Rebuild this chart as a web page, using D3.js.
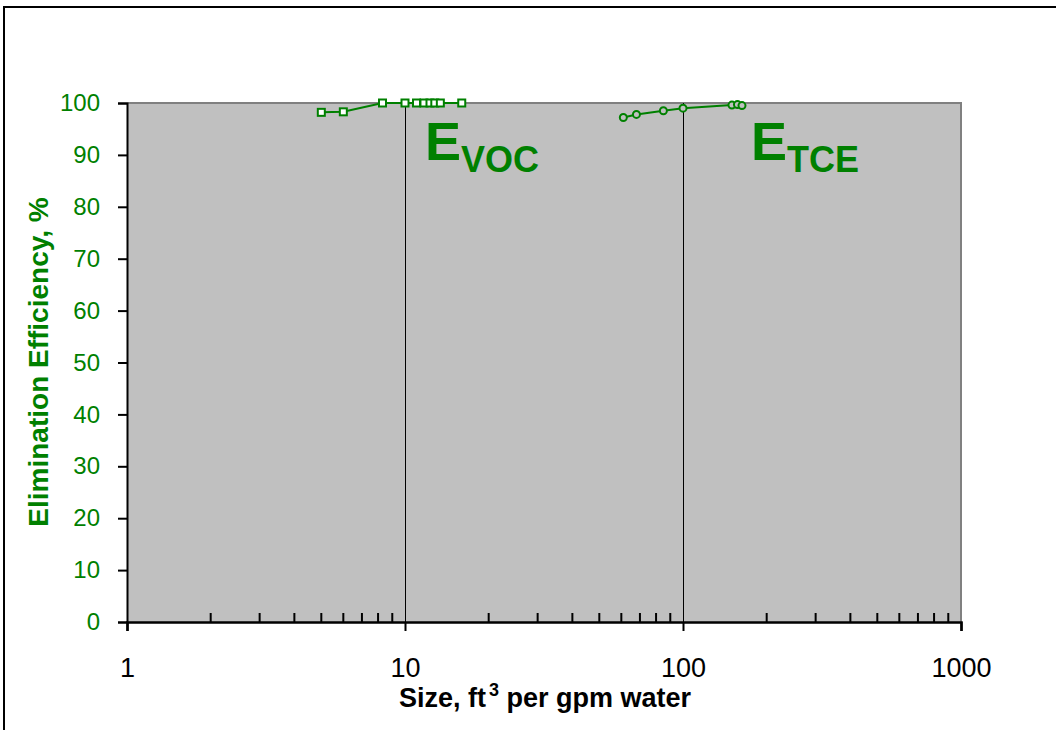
<!DOCTYPE html>
<html>
<head>
<meta charset="utf-8">
<script src="https://cdn.jsdelivr.net/npm/d3@7"></script>
<style>
  body { margin: 0; background: #fff; }
  svg { display: block; font-family: Arial, "Liberation Sans", sans-serif; }
</style>
</head>
<body>
<svg id="chart" width="1056" height="730"></svg>
<script>
// VOC elimination (squares)
const vocSize = [5, 6, 8.3, 10, 11, 11.7, 12.3, 12.8, 13.4, 16];
const vocEff  = [98.2, 98.3, 100, 100, 100, 100, 100, 100, 100, 100];
// TCE elimination (circles)
const tceSize = [61, 68, 85, 100, 150, 157, 163];
const tceEff  = [97.2, 97.8, 98.5, 99.0, 99.6, 99.7, 99.5];

const xTicks = [1, 10, 100, 1000];
const yTicks = [0, 10, 20, 30, 40, 50, 60, 70, 80, 90, 100];
const gridAt = [10, 100];

const GREEN = '#008000';
const FONT = 'Arial, "Liberation Sans", sans-serif';
const svg = d3.select('#chart');
const margin = { left: 127, top: 103, right: 961, bottom: 622 };

const x = d3.scaleLog().domain([1, 1000]).range([margin.left, margin.right]);
const y = d3.scaleLinear().domain([0, 100]).range([margin.bottom, margin.top]);

// outer frame
svg.append('rect')
  .attr('x', 4).attr('y', 7).attr('width', 1070).attr('height', 740)
  .attr('fill', 'none').attr('stroke', '#000').attr('stroke-width', 2);

// plot area
svg.append('rect')
  .attr('x', margin.left).attr('y', margin.top)
  .attr('width', margin.right - margin.left).attr('height', margin.bottom - margin.top)
  .attr('fill', '#c0c0c0');
svg.append('path')
  .attr('d', `M${margin.left},${margin.top}H${margin.right}V${margin.bottom}`)
  .attr('fill', 'none').attr('stroke', '#808080').attr('stroke-width', 2);

// gridlines at decades
svg.selectAll('.grid').data(gridAt).join('line')
  .attr('x1', d => Math.round(x(d)) + 0.5).attr('x2', d => Math.round(x(d)) + 0.5)
  .attr('y1', margin.top).attr('y2', margin.bottom)
  .attr('stroke', '#000').attr('stroke-width', 1);

// minor x ticks (inside)
const minor = [];
for (let dec = 1; dec < 1000; dec *= 10)
  for (let k = 2; k <= 9; k++) minor.push(dec * k);
svg.selectAll('.minor').data(minor).join('line')
  .attr('x1', d => x(d)).attr('x2', d => x(d))
  .attr('y1', margin.bottom - 9).attr('y2', margin.bottom)
  .attr('stroke', '#000').attr('stroke-width', 2);

// x axis
const xAxis = svg.append('g')
  .attr('transform', `translate(0,${margin.bottom})`)
  .call(d3.axisBottom(x).tickValues(xTicks).tickFormat(d3.format('d')).tickSize(9).tickPadding(27));
xAxis.select('.domain').attr('stroke', '#000').attr('stroke-width', 2.5);
xAxis.selectAll('.tick line').attr('stroke', '#000').attr('stroke-width', 2);
xAxis.selectAll('text').attr('font-size', 27).attr('fill', '#000').attr('font-family', FONT);

// y axis
const yAxis = svg.append('g')
  .attr('transform', `translate(${margin.left},0)`)
  .call(d3.axisLeft(y).tickValues(yTicks).tickSize(9).tickPadding(18));
yAxis.select('.domain').attr('stroke', '#000').attr('stroke-width', 2);
yAxis.selectAll('.tick line').attr('stroke', '#000').attr('stroke-width', 2);
yAxis.selectAll('text').attr('font-size', 24).attr('fill', GREEN).attr('font-family', FONT);

// axis titles
const xt = svg.append('text')
  .attr('x', 545).attr('y', 707).attr('text-anchor', 'middle')
  .attr('font-size', 27).attr('font-weight', 'bold').attr('fill', '#000');
xt.append('tspan').text('Size, ft');
xt.append('tspan').attr('font-size', 18).attr('dy', -11).attr('dx', 3).text('3');
xt.append('tspan').attr('dy', 11).text(' per gpm water');

svg.append('text')
  .attr('transform', 'translate(48,362) rotate(-90)')
  .attr('text-anchor', 'middle')
  .attr('font-size', 28).attr('font-weight', 'bold').attr('fill', GREEN)
  .text('Elimination Efficiency, %');

// series lines
const line = d3.line().x(d => x(d[0])).y(d => y(d[1]));
const voc = vocSize.map((s, i) => [s, vocEff[i]]);
const tce = tceSize.map((s, i) => [s, tceEff[i]]);

svg.append('path').datum(voc).attr('d', line)
  .attr('fill', 'none').attr('stroke', GREEN).attr('stroke-width', 2);
svg.append('path').datum(tce).attr('d', line)
  .attr('fill', 'none').attr('stroke', GREEN).attr('stroke-width', 2);

svg.selectAll('.sq').data(voc).join('rect')
  .attr('x', d => x(d[0]) - 3.5).attr('y', d => y(d[1]) - 3.5)
  .attr('width', 7).attr('height', 7)
  .attr('fill', '#fff').attr('stroke', GREEN).attr('stroke-width', 2);

svg.selectAll('.ci').data(tce).join('circle')
  .attr('cx', d => x(d[0])).attr('cy', d => y(d[1])).attr('r', 3.5)
  .attr('fill', '#c0c0c0').attr('stroke', GREEN).attr('stroke-width', 2);

// labels
function label(px, sub) {
  const t = svg.append('text').attr('x', px).attr('y', 160)
    .attr('fill', GREEN).attr('font-weight', 'bold');
  t.append('tspan').attr('font-size', 54).text('E');
  t.append('tspan').attr('font-size', 36).attr('dy', 12).text(sub);
}
label(425, 'VOC');
label(751, 'TCE');
</script>
</body>
</html>
